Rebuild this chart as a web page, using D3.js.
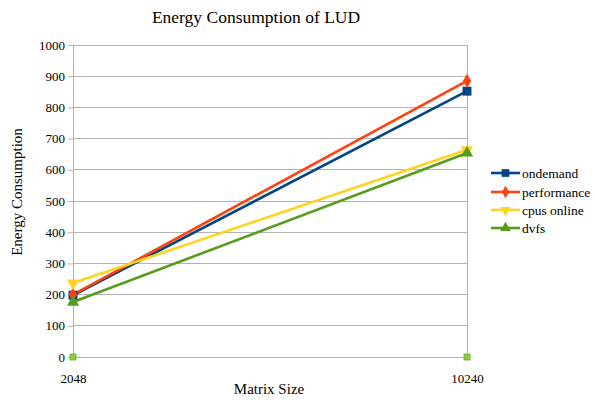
<!DOCTYPE html>
<html><head><meta charset="utf-8">
<script src="https://cdn.jsdelivr.net/npm/d3@7"></script>
<style>body{margin:0;background:#fff}svg{display:block}</style>
</head><body><svg width="595" height="405"></svg>
<script>
const categories = ["2048", "10240"];
const seriesNames = ["ondemand", "performance", "cpus online", "dvfs"];
const ondemand = [198, 852];
const performance = [200, 885];
const cpusOnline = [237, 664];
const dvfs = [176, 654];
const hiddenSeries = [0, 0];
const yTicks = [0,100,200,300,400,500,600,700,800,900,1000];
const colors = ["#004586", "#ff420e", "#ffd320", "#579d1c"];
const symbols = [d3.symbolSquare, d3.symbolDiamond, "down", "up"];
const FONT = "'Liberation Serif', 'Times New Roman', serif";

const svg = d3.select("svg");
const x = d3.scalePoint().domain(categories).range([73, 467]);
const y = d3.scaleLinear().domain([0, 1000]).range([357, 45]);

// grid
svg.append("g").selectAll("line").data(yTicks).join("line")
  .attr("x1", 73).attr("x2", 467).attr("y1", d => y(d)).attr("y2", d => y(d))
  .attr("stroke", "#b3b3b3").attr("stroke-width", 1).attr("shape-rendering","crispEdges");
svg.append("line").attr("x1", 467).attr("x2", 467).attr("y1", y(1000)).attr("y2", y(0))
  .attr("stroke", "#b3b3b3").attr("shape-rendering","crispEdges");
// y axis
const ya = svg.append("g").attr("transform", "translate(73,0)")
  .call(d3.axisLeft(y).tickValues(yTicks).tickFormat(d3.format("d")).tickSize(5).tickPadding(3));
ya.attr("font-family", null).attr("font-size", null);
ya.select(".domain").attr("stroke", "#b3b3b3");
ya.selectAll(".tick line").attr("stroke", "#b3b3b3");
ya.selectAll("text").style("font-size", "13px").style("font-family", FONT).attr("fill","#000");
// x axis labels
const xa = svg.append("g").attr("transform", "translate(0,357)")
  .call(d3.axisBottom(x).tickSize(0).tickPadding(17));
xa.attr("font-family", null).attr("font-size", null);
xa.select(".domain").remove();
xa.selectAll("text").style("font-size", "13px").style("font-family", FONT).attr("fill","#000");

function sym(i, size) {
  const s = symbols[i];
  if (s === "down" || s === "up") return d3.symbol(d3.symbolTriangle, size)();
  return d3.symbol(s, size)();
}

const allSeries = [ondemand, performance, cpusOnline, dvfs];
const line = d3.line().x((d, i) => x(categories[i])).y(d => y(d));
// hidden series markers
svg.append("g").selectAll("rect").data(hiddenSeries).join("rect")
  .attr("x", (d,i) => x(categories[i]) - 3).attr("y", d => y(d) - 3)
  .attr("width", 6).attr("height", 6).attr("fill", "#8ccf3c").attr("stroke", "#6aa82a").attr("stroke-width", 0.8);

allSeries.forEach((vals, si) => {
  svg.append("path").datum(vals).attr("d", line).attr("fill", "none")
    .attr("stroke", colors[si]).attr("stroke-width", 2.6);
});
allSeries.forEach((vals, si) => {
  svg.append("g").selectAll("path").data(vals).join("path")
    .attr("d", sym(si, si === 1 ? 60 : (si === 0 ? 80 : 65)))
    .attr("transform", (d, i) => `translate(${x(categories[i])},${y(d)})` + (symbols[si] === "down" ? " rotate(180)" : ""))
    .attr("fill", colors[si]);
});

// title & labels
function txt(xp, yp, size, s, rot) {
  const t = svg.append("text").attr("text-anchor", "middle")
    .style("font-family", FONT).style("font-size", size + "px").attr("fill", "#000").text(s);
  if (rot) t.attr("transform", `translate(${xp},${yp}) rotate(-90)`);
  else t.attr("x", xp).attr("y", yp);
}
txt(256, 23, 17.5, "Energy Consumption of LUD");
txt(269, 394, 15, "Matrix Size");
txt(22, 192, 15, "Energy Consumption", true);

// legend
const lg = svg.append("g");
seriesNames.forEach((n, i) => {
  const ly = [173, 192, 210, 228][i];
  lg.append("line").attr("x1", 491).attr("x2", 520).attr("y1", ly).attr("y2", ly).attr("stroke", colors[i]).attr("stroke-width", 2.6);
  lg.append("path").attr("d", sym(i, i === 1 ? 45 : (i === 0 ? 60 : 50)))
    .attr("transform", `translate(505.5,${ly})` + (symbols[i] === "down" ? " rotate(180)" : "")).attr("fill", colors[i]);
  lg.append("text").attr("x", 522).attr("y", ly + 4.5)
    .style("font-family", FONT).style("font-size", "13.5px").attr("fill", "#000").text(n);
});
</script></body></html>
